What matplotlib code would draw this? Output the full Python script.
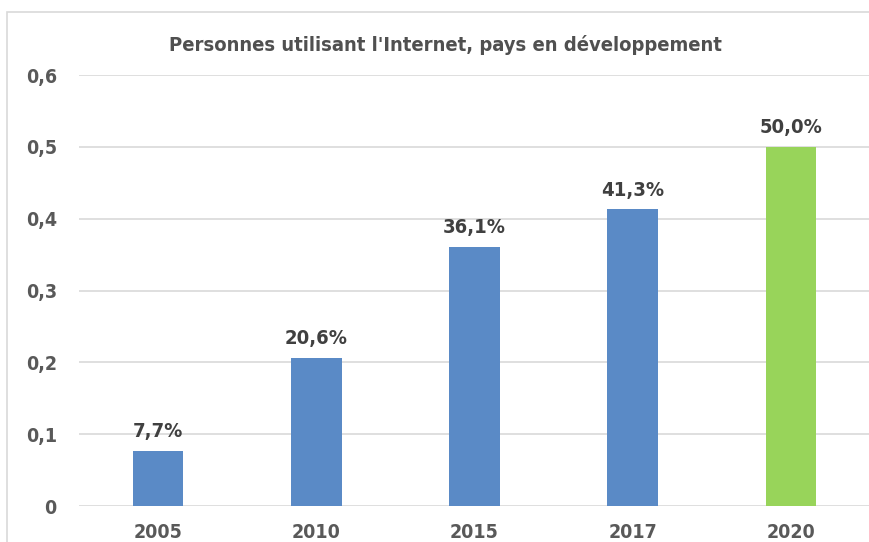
import matplotlib.pyplot as plt
from matplotlib.patches import Rectangle

years = ['2005', '2010', '2015', '2017', '2020']
values = [0.077, 0.206, 0.361, 0.413, 0.500]
labels = ['7,7%', '20,6%', '36,1%', '41,3%', '50,0%']
colors = ['#5A8AC6', '#5A8AC6', '#5A8AC6', '#5A8AC6', '#98D45A']
yticks = [0, 0.1, 0.2, 0.3, 0.4, 0.5, 0.6]
ytick_labels = ['0', '0,1', '0,2', '0,3', '0,4', '0,5', '0,6']

plt.rcParams['font.family'] = ['DejaVu Sans']
plt.rcParams['font.stretch'] = 'condensed'

fig = plt.figure(figsize=(8.7, 5.42), dpi=100)
ax = fig.add_axes([79 / 870, 1 - 506 / 542, 791 / 870, (506 - 75) / 542])

# chart frame (cut off at right and bottom)
fig.patches.append(Rectangle((7 / 870, -0.1), 2, (542 - 12) / 542 + 0.1,
                             transform=fig.transFigure, fill=False,
                             edgecolor='#D9D9D9', linewidth=1.2))

x = range(len(years))
ax.bar(x, values, width=0.32, color=colors, zorder=3)
for i, v in enumerate(values):
    ax.annotate(labels[i], (i, v), xytext=(0, 7), textcoords='offset points',
                ha='center', va='bottom', fontsize=14.5, fontweight='bold',
                color='#404040')

ax.set_xlim(-0.5, len(years) - 0.5)
ax.set_ylim(0, 0.6)
ax.set_yticks(yticks)
ax.set_yticklabels(ytick_labels)
ax.set_xticks(list(x))
ax.set_xticklabels(years)
ax.grid(axis='y', color='#D9D9D9', linewidth=1.2, zorder=0)
for s in ax.spines.values():
    s.set_visible(False)
ax.tick_params(length=0, labelsize=14, labelcolor='#595959')
ax.tick_params(axis='y', pad=16)
ax.tick_params(axis='x', pad=12)
for t in ax.get_xticklabels() + ax.get_yticklabels():
    t.set_fontweight('bold')

fig.text(445 / 870, 1 - 45 / 542, "Personnes utilisant l'Internet, pays en développement",
         ha='center', va='center', fontsize=14.5, fontweight='bold', color='#505050')

fig.savefig('out.png', dpi=100)
